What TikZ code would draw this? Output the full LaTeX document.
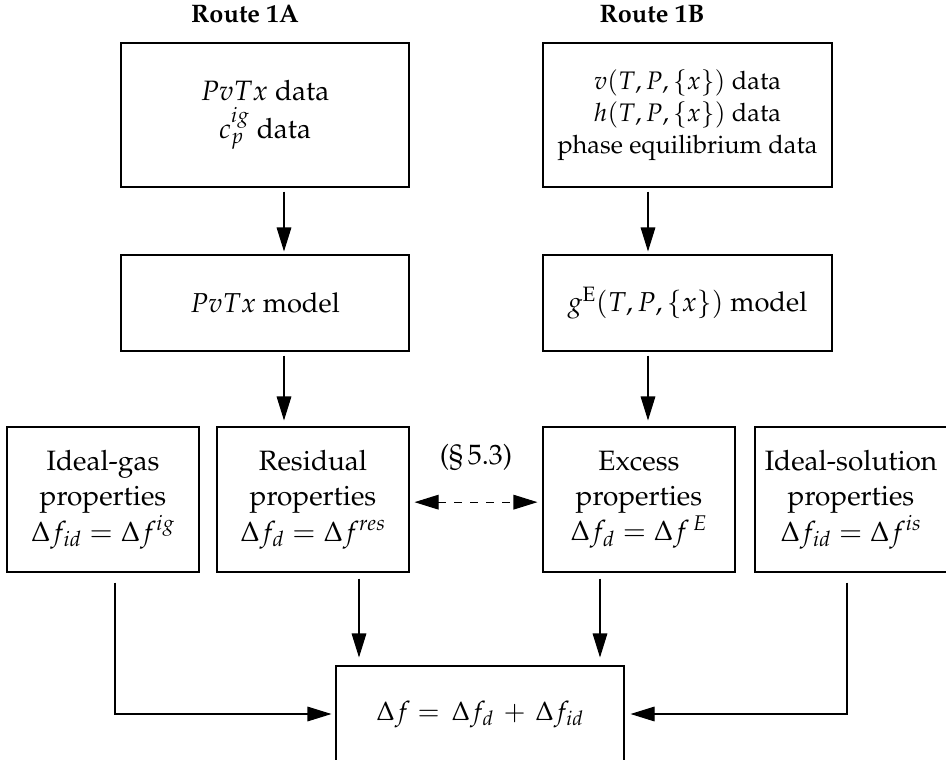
\documentclass[tikz,border=0pt]{standalone}
\usepackage[T1]{fontenc}
\usepackage{mathpazo}
\usetikzlibrary{arrows.meta}
\begin{document}
\begin{tikzpicture}[x=0.75pt,y=-0.75pt,
  txt/.style={font=\fontsize{21}{26.5}\selectfont},
  box/.style={draw=black, line width=0.8pt, rectangle, inner sep=0pt, align=center, txt},
  lbl/.style={font=\bfseries\fontsize{19}{24}\selectfont},
  arr/.style={line width=0.8pt, -{Triangle[length=18pt,width=11pt]}},
  darr/.style={line width=0.8pt, dash pattern=on 6pt off 6pt, {Triangle[length=18pt,width=11pt]}-{Triangle[length=18pt,width=11pt]}},
]
\useasboundingbox (0,0) rectangle (946,760);
% route labels
\node[lbl] (rA) at (245,14) {Route 1A};
\node[lbl] (rB) at (652,14) {Route 1B};
% data boxes
\node[box, minimum width=216pt, minimum height=108pt, font=\fontsize{21}{25}\selectfont] (d1A) at (265,115) {$PvTx$ data\\[3pt] $c_p^{ig}$\ data};
\node[box, minimum width=216.75pt, minimum height=108pt, font=\fontsize{19}{24}\selectfont] (d1B) at (687.5,115) {$v(T, P, \{x\})$ data\\ $h(T, P, \{x\})$ data\\ phase equilibrium data};
% model boxes
\node[box, minimum width=216pt, minimum height=72pt, font=\fontsize{20.5}{24}\selectfont] (m1A) at (265,303) {$PvTx$ model};
\node[box, minimum width=216.75pt, minimum height=72pt, font=\fontsize{20.5}{24}\selectfont] (m1B) at (687.5,303) {$g^{\mathrm{E}}(T, P, \{x\})$ model};
% property boxes
\node[box, minimum width=144pt, minimum height=108.75pt] (ig) at (103,499.5) {Ideal-gas\\ properties\\ $\Delta f_{id} = \Delta f^{ig}$};
\node[box, minimum width=144pt, minimum height=108.75pt] (res) at (313,499.5) {Residual\\ properties\\ $\Delta f_{d} = \Delta f^{res}$};
\node[box, minimum width=144pt, minimum height=108.75pt] (ex) at (639,499.5) {Excess\\ properties\\ $\Delta f_{d} = \Delta f^{\,E}$};
\node[box, minimum width=144pt, minimum height=108.75pt] (is) at (851,499.5) {Ideal-solution\\ properties\\ $\Delta f_{id} = \Delta f^{is}$};
% result box
\node[box, minimum width=216pt, minimum height=72pt, font=\fontsize{20}{24}\selectfont] (df) at (480,714) {$\Delta f = \,\Delta f_d \,+\, \Delta f_{id}$};
% column coordinates
\coordinate (cA) at (284,0);
\coordinate (cB) at (648,0);
\coordinate (cR) at (359,0);
\coordinate (cE) at (600,0);
\coordinate (cG) at (115,0);
\coordinate (cS) at (847,0);
% vertical arrows
\draw[arr, shorten <=3pt, shorten >=2.25pt] (d1A.south -| cA) -- (m1A.north -| cA);
\draw[arr, shorten <=3pt, shorten >=2.25pt] (d1B.south -| cB) -- (m1B.north -| cB);
\draw[arr, shorten <=3pt, shorten >=4.5pt] (m1A.south -| cA) -- (res.north -| cA);
\draw[arr, shorten <=3pt, shorten >=4.5pt] (m1B.south -| cB) -- (ex.north -| cB);
\draw[arr, shorten <=4.5pt, shorten >=6pt] (res.south -| cR) -- (df.north -| cR);
\draw[arr, shorten <=4.5pt, shorten >=6pt] (ex.south -| cE) -- (df.north -| cE);
% side arrows
\draw[arr, shorten <=7.5pt, shorten >=3pt] (ig.south -| cG) |- (df.west);
\draw[arr, shorten <=7.5pt, shorten >=4.5pt] (is.south -| cS) |- (df.east);
% dashed link
\draw[darr, shorten <=3.75pt, shorten >=3.75pt] ([yshift=-2pt]res.east) -- ([yshift=-2pt]ex.west);
\node[txt] (sec) at (476,457) {(\S\,5.3)};
\end{tikzpicture}
\end{document}
